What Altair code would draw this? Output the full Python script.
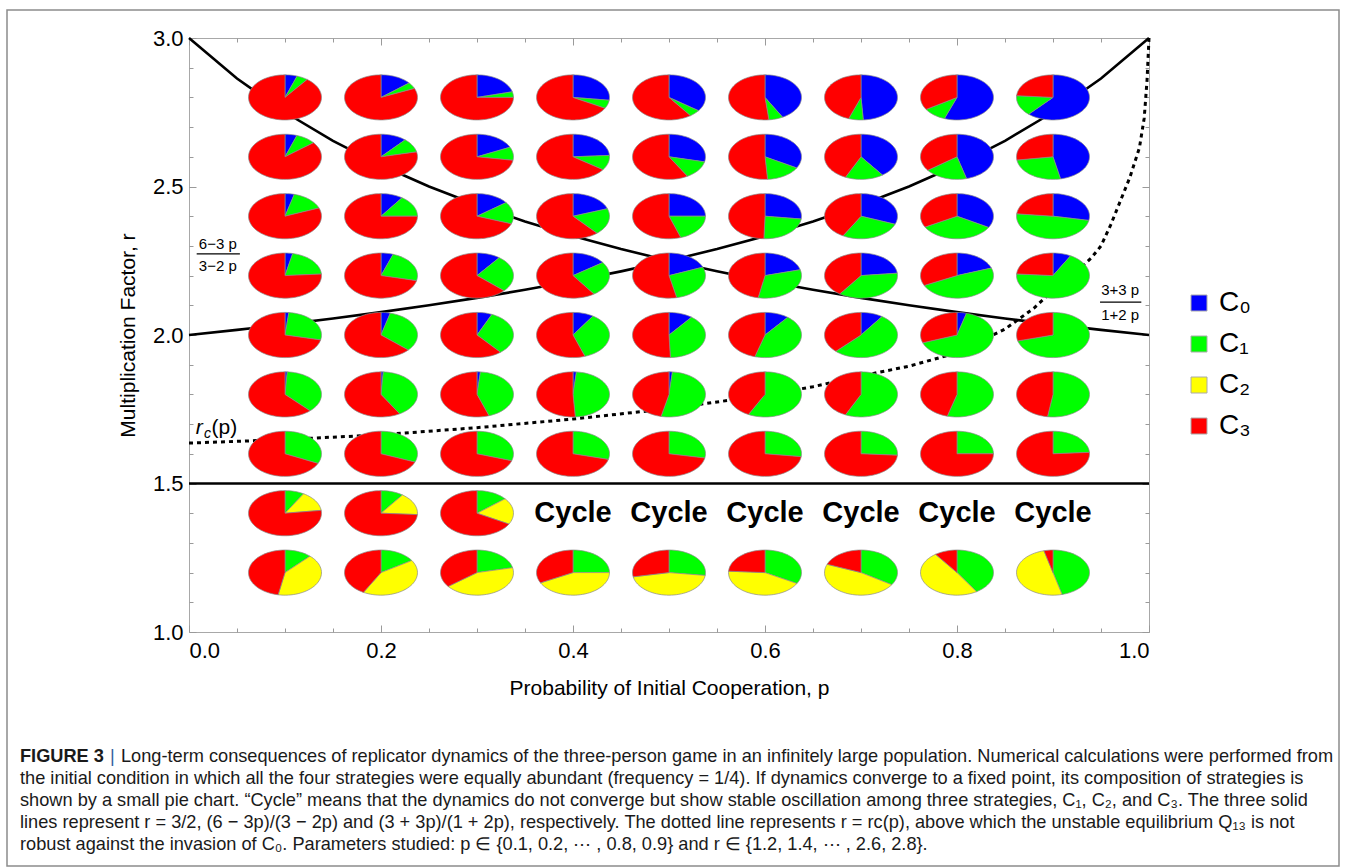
import math
import altair as alt
import pandas as pd

# ---------------- data ----------------
P_VALUES = [0.1, 0.2, 0.3, 0.4, 0.5, 0.6, 0.7, 0.8, 0.9]
R_VALUES = [2.8, 2.6, 2.4, 2.2, 2.0, 1.8, 1.6, 1.4, 1.2]
STRATEGIES = ["C₀", "C₁", "C₂", "C₃"]
COLORS = ["#0000ff", "#00ff00", "#ffff00", "#ff0000"]

# composition of the converged state, one list per r (p = 0.1 ... 0.9); None = "Cycle"
C0_FRAC = {
    2.8: [0.054, 0.14, 0.21, 0.27, 0.35, 0.42, 0.49, 0.556, 0.616],
    2.6: [0.053, 0.115, 0.18, 0.24, 0.286, 0.332, 0.40, 0.458, 0.467],
    2.4: [0.041, 0.098, 0.147, 0.196, 0.25, 0.27, 0.308, 0.333, 0.28],
    2.2: [0.034, 0.054, 0.104, 0.152, 0.189, 0.208, 0.233, 0.196, 0.08],
    2.0: [0.017, 0.041, 0.067, 0.092, 0.106, 0.107, 0.098, 0.042, 0.0],
    1.8: [0.01, 0.01, 0.015, 0.015, 0.015, 0.0, 0.0, 0.0, 0.0],
    1.6: [0.0, 0.0, 0.0, 0.0, 0.0, 0.0, 0.0, 0.0, 0.0],
    1.4: [0.0, 0.0, 0.0, None, None, None, None, None, None],
    1.2: [0.0, 0.0, 0.0, 0.0, 0.0, 0.0, 0.0, 0.0, 0.0],
}
C1_FRAC = {
    2.8: [0.05, 0.045, 0.04, 0.06, 0.05, 0.063, 0.065, 0.105, 0.146],
    2.6: [0.09, 0.10, 0.095, 0.107, 0.13, 0.157, 0.17, 0.19, 0.26],
    2.4: [0.15, 0.152, 0.158, 0.19, 0.198, 0.235, 0.274, 0.337, 0.487],
    2.2: [0.205, 0.232, 0.263, 0.251, 0.277, 0.322, 0.366, 0.482, 0.682],
    2.0: [0.268, 0.325, 0.322, 0.355, 0.388, 0.438, 0.523, 0.652, 0.708],
    1.8: [0.37, 0.405, 0.432, 0.475, 0.52, 0.575, 0.57, 0.543, 0.524],
    1.6: [0.32, 0.31, 0.30, 0.29, 0.28, 0.27, 0.26, 0.25, 0.24],
    1.4: [0.085, 0.10, 0.14, None, None, None, None, None, None],
    1.2: [0.12, 0.16, 0.215, 0.25, 0.27, 0.33, 0.34, 0.41, 0.46],
}
C2_FRAC = {
    2.8: [0.0] * 9,
    2.6: [0.0] * 9,
    2.4: [0.0] * 9,
    2.2: [0.0] * 9,
    2.0: [0.0] * 9,
    1.8: [0.0] * 9,
    1.6: [0.0] * 9,
    1.4: [0.145, 0.16, 0.19, None, None, None, None, None, None],
    1.2: [0.41, 0.42, 0.43, 0.425, 0.45, 0.43, 0.47, 0.49, 0.50],
}
C3_FRAC = {
    2.8: [0.896, 0.815, 0.75, 0.67, 0.60, 0.517, 0.445, 0.339, 0.238],
    2.6: [0.857, 0.785, 0.725, 0.653, 0.584, 0.511, 0.43, 0.352, 0.273],
    2.4: [0.809, 0.75, 0.695, 0.614, 0.552, 0.495, 0.418, 0.33, 0.233],
    2.2: [0.761, 0.714, 0.633, 0.597, 0.534, 0.47, 0.401, 0.322, 0.238],
    2.0: [0.715, 0.634, 0.611, 0.553, 0.506, 0.455, 0.379, 0.306, 0.292],
    1.8: [0.62, 0.585, 0.553, 0.51, 0.465, 0.425, 0.43, 0.457, 0.476],
    1.6: [0.68, 0.69, 0.70, 0.71, 0.72, 0.73, 0.74, 0.75, 0.76],
    1.4: [0.77, 0.74, 0.67, None, None, None, None, None, None],
    1.2: [0.47, 0.42, 0.355, 0.325, 0.28, 0.24, 0.19, 0.10, 0.04],
}
CYCLE_P = [0.4, 0.5, 0.6, 0.7, 0.8, 0.9]
CYCLE_R = [1.4, 1.4, 1.4, 1.4, 1.4, 1.4]

# solid boundary curves and the dotted r_c(p) curve
CURVE_P = [0.0, 0.05, 0.1, 0.15, 0.2, 0.25, 0.3, 0.35, 0.4, 0.45, 0.5,
           0.55, 0.6, 0.65, 0.7, 0.75, 0.8, 0.85, 0.9, 0.95, 1.0]
CURVE_A = [2.0, 2.0172, 2.0357, 2.0556, 2.0769, 2.1, 2.125, 2.1522, 2.1818, 2.2143, 2.25,
           2.2895, 2.3333, 2.3824, 2.4375, 2.5, 2.5714, 2.6538, 2.75, 2.8636, 3.0]
CURVE_B = [3.0, 2.8636, 2.75, 2.6538, 2.5714, 2.5, 2.4375, 2.3824, 2.3333, 2.2895, 2.25,
           2.2143, 2.1818, 2.1522, 2.125, 2.1, 2.0769, 2.0556, 2.0357, 2.0172, 2.0]
HLINE_P = [0.0, 1.0]
HLINE_R = [1.5, 1.5]
RC_P = [0.0, 0.1, 0.2, 0.3, 0.4, 0.5, 0.6, 0.65, 0.7, 0.75, 0.8, 0.85, 0.88, 0.9,
        0.92, 0.94, 0.95, 0.96, 0.97, 0.98, 0.99, 0.995, 0.998, 1.0]
RC_R = [1.636, 1.648, 1.664, 1.688, 1.717, 1.752, 1.797, 1.826, 1.862, 1.895, 1.94, 2.02,
        2.09, 2.15, 2.2, 2.26, 2.3, 2.37, 2.45, 2.53, 2.63, 2.73, 2.86, 3.0]

X_TICKS = [0.0, 0.2, 0.4, 0.6, 0.8, 1.0]
Y_TICKS = [1.0, 1.5, 2.0, 2.5, 3.0]
X_MINOR = [round(0.05 * i, 2) for i in range(1, 20)]
Y_MINOR = [round(1.0 + 0.1 * i, 1) for i in range(1, 20)]

CAPTION = [
    "the initial condition in which all the four strategies were equally abundant (frequency = 1/4). If dynamics converge to a fixed point, its composition of strategies is",
    "shown by a small pie chart. “Cycle” means that the dynamics do not converge but show stable oscillation among three strategies, C₁, C₂, and C₃. The three solid",
    "lines represent r = 3/2, (6 − 3p)/(3 − 2p) and (3 + 3p)/(1 + 2p), respectively. The dotted line represents r = rc(p), above which the unstable equilibrium Q₁₃ is not",
    "robust against the invasion of C₀. Parameters studied: p ∈ {0.1, 0.2, ⋯ , 0.8, 0.9} and r ∈ {1.2, 1.4, ⋯ , 2.6, 2.8}.",
]
CAPTION_FIRST = "Long-term consequences of replicator dynamics of the three-person game in an infinitely large population. Numerical calculations were performed from"

# ---------------- styles ----------------
FONT = "Liberation Sans, Arial, Helvetica, sans-serif"
CAP_SIZE = 18.2
PIE_RX = 0.038   # half width of a pie, in p units
PIE_RY = 0.076   # half height of a pie, in r units
W, H = 960, 594
PAD_L, PAD_T = 189, 38

XS = alt.Scale(domain=[0, 1], nice=False, zero=False)
YS = alt.Scale(domain=[1, 3], nice=False, zero=False)

# ---------------- pie wedges as polygons ----------------
fracs = {"C₀": C0_FRAC, "C₁": C1_FRAC, "C₂": C2_FRAC, "C₃": C3_FRAC}
rows = []
wid = 0
for r in R_VALUES:
    for i, p in enumerate(P_VALUES):
        if C1_FRAC[r][i] is None:
            continue
        vals = [fracs[s][r][i] for s in STRATEGIES]
        tot = sum(vals)
        cum = 0.0
        for s, v in zip(STRATEGIES, vals):
            f = v / tot
            if f <= 0:
                continue
            a0, a1 = cum * 2 * math.pi, (cum + f) * 2 * math.pi
            n = max(2, int(math.ceil(f * 90)))
            k = 0
            rows.append(dict(p=p, r=r, strategy=s, wedge=wid, k=k))
            for j in range(n + 1):
                t = a0 + (a1 - a0) * j / n
                k += 1
                rows.append(dict(p=p + PIE_RX * math.sin(t), r=r + PIE_RY * math.cos(t),
                                 strategy=s, wedge=wid, k=k))
            wid += 1
            cum += f
pie_df = pd.DataFrame(rows)

pies = alt.Chart(pie_df).mark_line(
    interpolate="linear-closed", stroke="#8a8a8a", strokeWidth=0.7
).encode(
    x=alt.X("p:Q", scale=XS, axis=alt.Axis(
        values=X_TICKS, format=".1f", ticks=False, domain=False, grid=False,
        labelFontSize=22, labelFont=FONT, labelColor="black", labelPadding=8,
        title="Probability of Initial Cooperation, p", titleFont=FONT, titleFontSize=21,
        titleFontWeight="normal", titleColor="black", titlePadding=16)),
    y=alt.Y("r:Q", scale=YS, axis=alt.Axis(
        values=Y_TICKS, format=".1f", ticks=False, domain=False, grid=False,
        labelFontSize=22, labelFont=FONT, labelColor="black", labelPadding=6,
        title="Multiplication Factor, r", titleFont=FONT, titleFontSize=21,
        titleFontWeight="normal", titleColor="black", titlePadding=14)),
    fill=alt.Fill("strategy:N", scale=alt.Scale(domain=STRATEGIES, range=COLORS),
                  legend=alt.Legend(title=None, orient="none", legendX=996, legendY=251,
                                    symbolType="square", symbolSize=256,
                                    symbolStrokeColor="#aaaaaa", symbolStrokeWidth=1,
                                    labelFont=FONT, labelFontSize=28, labelColor="black",
                                    rowPadding=13, labelOffset=6)),
    detail="wedge:N",
    order="k:Q",
)

# ---------------- curves ----------------
curve_df = pd.DataFrame({
    "p": CURVE_P + CURVE_P + HLINE_P,
    "r": CURVE_A + CURVE_B + HLINE_R,
    "curve": ["a"] * len(CURVE_P) + ["b"] * len(CURVE_P) + ["h"] * len(HLINE_P),
})
curves = alt.Chart(curve_df).mark_line(color="black", strokeWidth=2.6).encode(
    x=alt.X("p:Q", scale=XS, axis=None),
    y=alt.Y("r:Q", scale=YS, axis=None),
    detail="curve:N", order="p:Q",
)
rc_df = pd.DataFrame({"p": RC_P, "r": RC_R})
rc_line = alt.Chart(rc_df).mark_line(color="black", strokeWidth=3, strokeDash=[4, 4]).encode(
    x=alt.X("p:Q", scale=XS, axis=None),
    y=alt.Y("r:Q", scale=YS, axis=None),
    order="p:Q",
)

# ---------------- inward ticks on all four sides ----------------
carrier = pd.DataFrame({"p": [0.0, 1.0], "r": [1.0, 3.0]})


def tick_layer(xo, yo, xv, yv, size):
    return alt.Chart(carrier).mark_point(opacity=0).encode(
        x=alt.X("p:Q", scale=XS, axis=alt.Axis(
            orient=xo, values=xv, labels=False, domain=False, grid=False, ticks=True,
            tickSize=size, offset=-size, tickColor="#9a9a9a", tickWidth=1, title=None)),
        y=alt.Y("r:Q", scale=YS, axis=alt.Axis(
            orient=yo, values=yv, labels=False, domain=False, grid=False, ticks=True,
            tickSize=size, offset=-size, tickColor="#9a9a9a", tickWidth=1, title=None)),
    )


ticks = [
    tick_layer("bottom", "left", X_MINOR, Y_MINOR, 4),
    tick_layer("top", "right", X_MINOR, Y_MINOR, 4),
    tick_layer("bottom", "left", X_TICKS, Y_TICKS, 7),
    tick_layer("top", "right", X_TICKS, Y_TICKS, 7),
]

# ---------------- annotations ----------------
cycle_df = pd.DataFrame({"p": CYCLE_P, "r": CYCLE_R, "t": ["Cycle"] * len(CYCLE_P)})
cycles = alt.Chart(cycle_df).mark_text(
    font=FONT, fontSize=29, fontWeight="bold", color="black", baseline="middle", align="center"
).encode(
    x=alt.X("p:Q", scale=XS, axis=None), y=alt.Y("r:Q", scale=YS, axis=None), text="t:N"
)

LBL_P = [0.030, 0.030, 0.970, 0.970]
LBL_R = [2.306, 2.232, 2.152, 2.067]
LBL_T = ["6−3 p", "3−2 p", "3+3 p", "1+2 p"]
frac_txt = alt.Chart(pd.DataFrame({"p": LBL_P, "r": LBL_R, "t": LBL_T})).mark_text(
    font=FONT, fontSize=15, color="black", baseline="middle", align="center"
).encode(x=alt.X("p:Q", scale=XS, axis=None), y=alt.Y("r:Q", scale=YS, axis=None), text="t:N")
BAR_P1 = [0.008, 0.949]
BAR_P2 = [0.053, 0.992]
BAR_R = [2.273, 2.111]
frac_bar = alt.Chart(pd.DataFrame({"p": BAR_P1, "p2": BAR_P2, "r": BAR_R})).mark_rule(
    color="black", strokeWidth=1.3
).encode(x=alt.X("p:Q", scale=XS, axis=None), x2="p2:Q", y=alt.Y("r:Q", scale=YS, axis=None))

rc_lab = [
    alt.Chart(pd.DataFrame({"p": [0.007], "r": [1.687], "t": ["r"]})).mark_text(
        font=FONT, fontSize=21, fontStyle="italic", color="black", baseline="middle", align="left"),
    alt.Chart(pd.DataFrame({"p": [0.0155], "r": [1.687], "t": ["c"]})).mark_text(
        font=FONT, fontSize=14, fontStyle="italic", color="black", baseline="middle", align="left", dy=6),
    alt.Chart(pd.DataFrame({"p": [0.0235], "r": [1.687], "t": ["(p)"]})).mark_text(
        font=FONT, fontSize=21, color="black", baseline="middle", align="left"),
]
rc_lab = [c.encode(x=alt.X("p:Q", scale=XS, axis=None), y=alt.Y("r:Q", scale=YS, axis=None), text="t:N")
          for c in rc_lab]

one = pd.DataFrame({"a": [0]})
border = alt.Chart(one).mark_rect(fillOpacity=0, stroke="#8c8c8c", strokeWidth=1.5).encode(
    x=alt.value(7 - PAD_L), x2=alt.value(1339 - PAD_L),
    y=alt.value(10 - PAD_T), y2=alt.value(866 - PAD_T),
)

cap_layers = []
y0 = 757 - PAD_T
x0 = 20 - PAD_L
cap_layers.append(alt.Chart(one).mark_text(
    text="FIGURE 3", font=FONT, fontSize=CAP_SIZE, fontWeight="bold", color="#1a1a1a",
    align="left", baseline="middle").encode(x=alt.value(x0), y=alt.value(y0)))
cap_layers.append(alt.Chart(one).mark_text(
    text="|", font=FONT, fontSize=CAP_SIZE, color="#3060a0",
    align="left", baseline="middle").encode(x=alt.value(x0 + 90), y=alt.value(y0)))
cap_layers.append(alt.Chart(one).mark_text(
    text=CAPTION_FIRST, font=FONT, fontSize=CAP_SIZE, color="#1a1a1a",
    align="left", baseline="middle").encode(x=alt.value(x0 + 101), y=alt.value(y0)))
for i, line in enumerate(CAPTION):
    cap_layers.append(alt.Chart(one).mark_text(
        text=line, font=FONT, fontSize=CAP_SIZE, color="#1a1a1a",
        align="left", baseline="middle").encode(x=alt.value(x0), y=alt.value(y0 + 22 * (i + 1))))

chart = alt.layer(
    curves, rc_line, pies, *ticks, cycles, frac_txt, frac_bar, *rc_lab, border, *cap_layers
).resolve_axis(x="independent", y="independent").properties(
    width=W, height=H,
    padding={"left": PAD_L, "top": PAD_T, "right": 1346 - PAD_L - W, "bottom": 868 - PAD_T - H},
    autosize=alt.AutoSizeParams(type="none"),
    background="white",
).configure_view(stroke="#a8a8a8", strokeWidth=1)

chart.save("out.html", embed_options={"renderer": "svg", "actions": False})
